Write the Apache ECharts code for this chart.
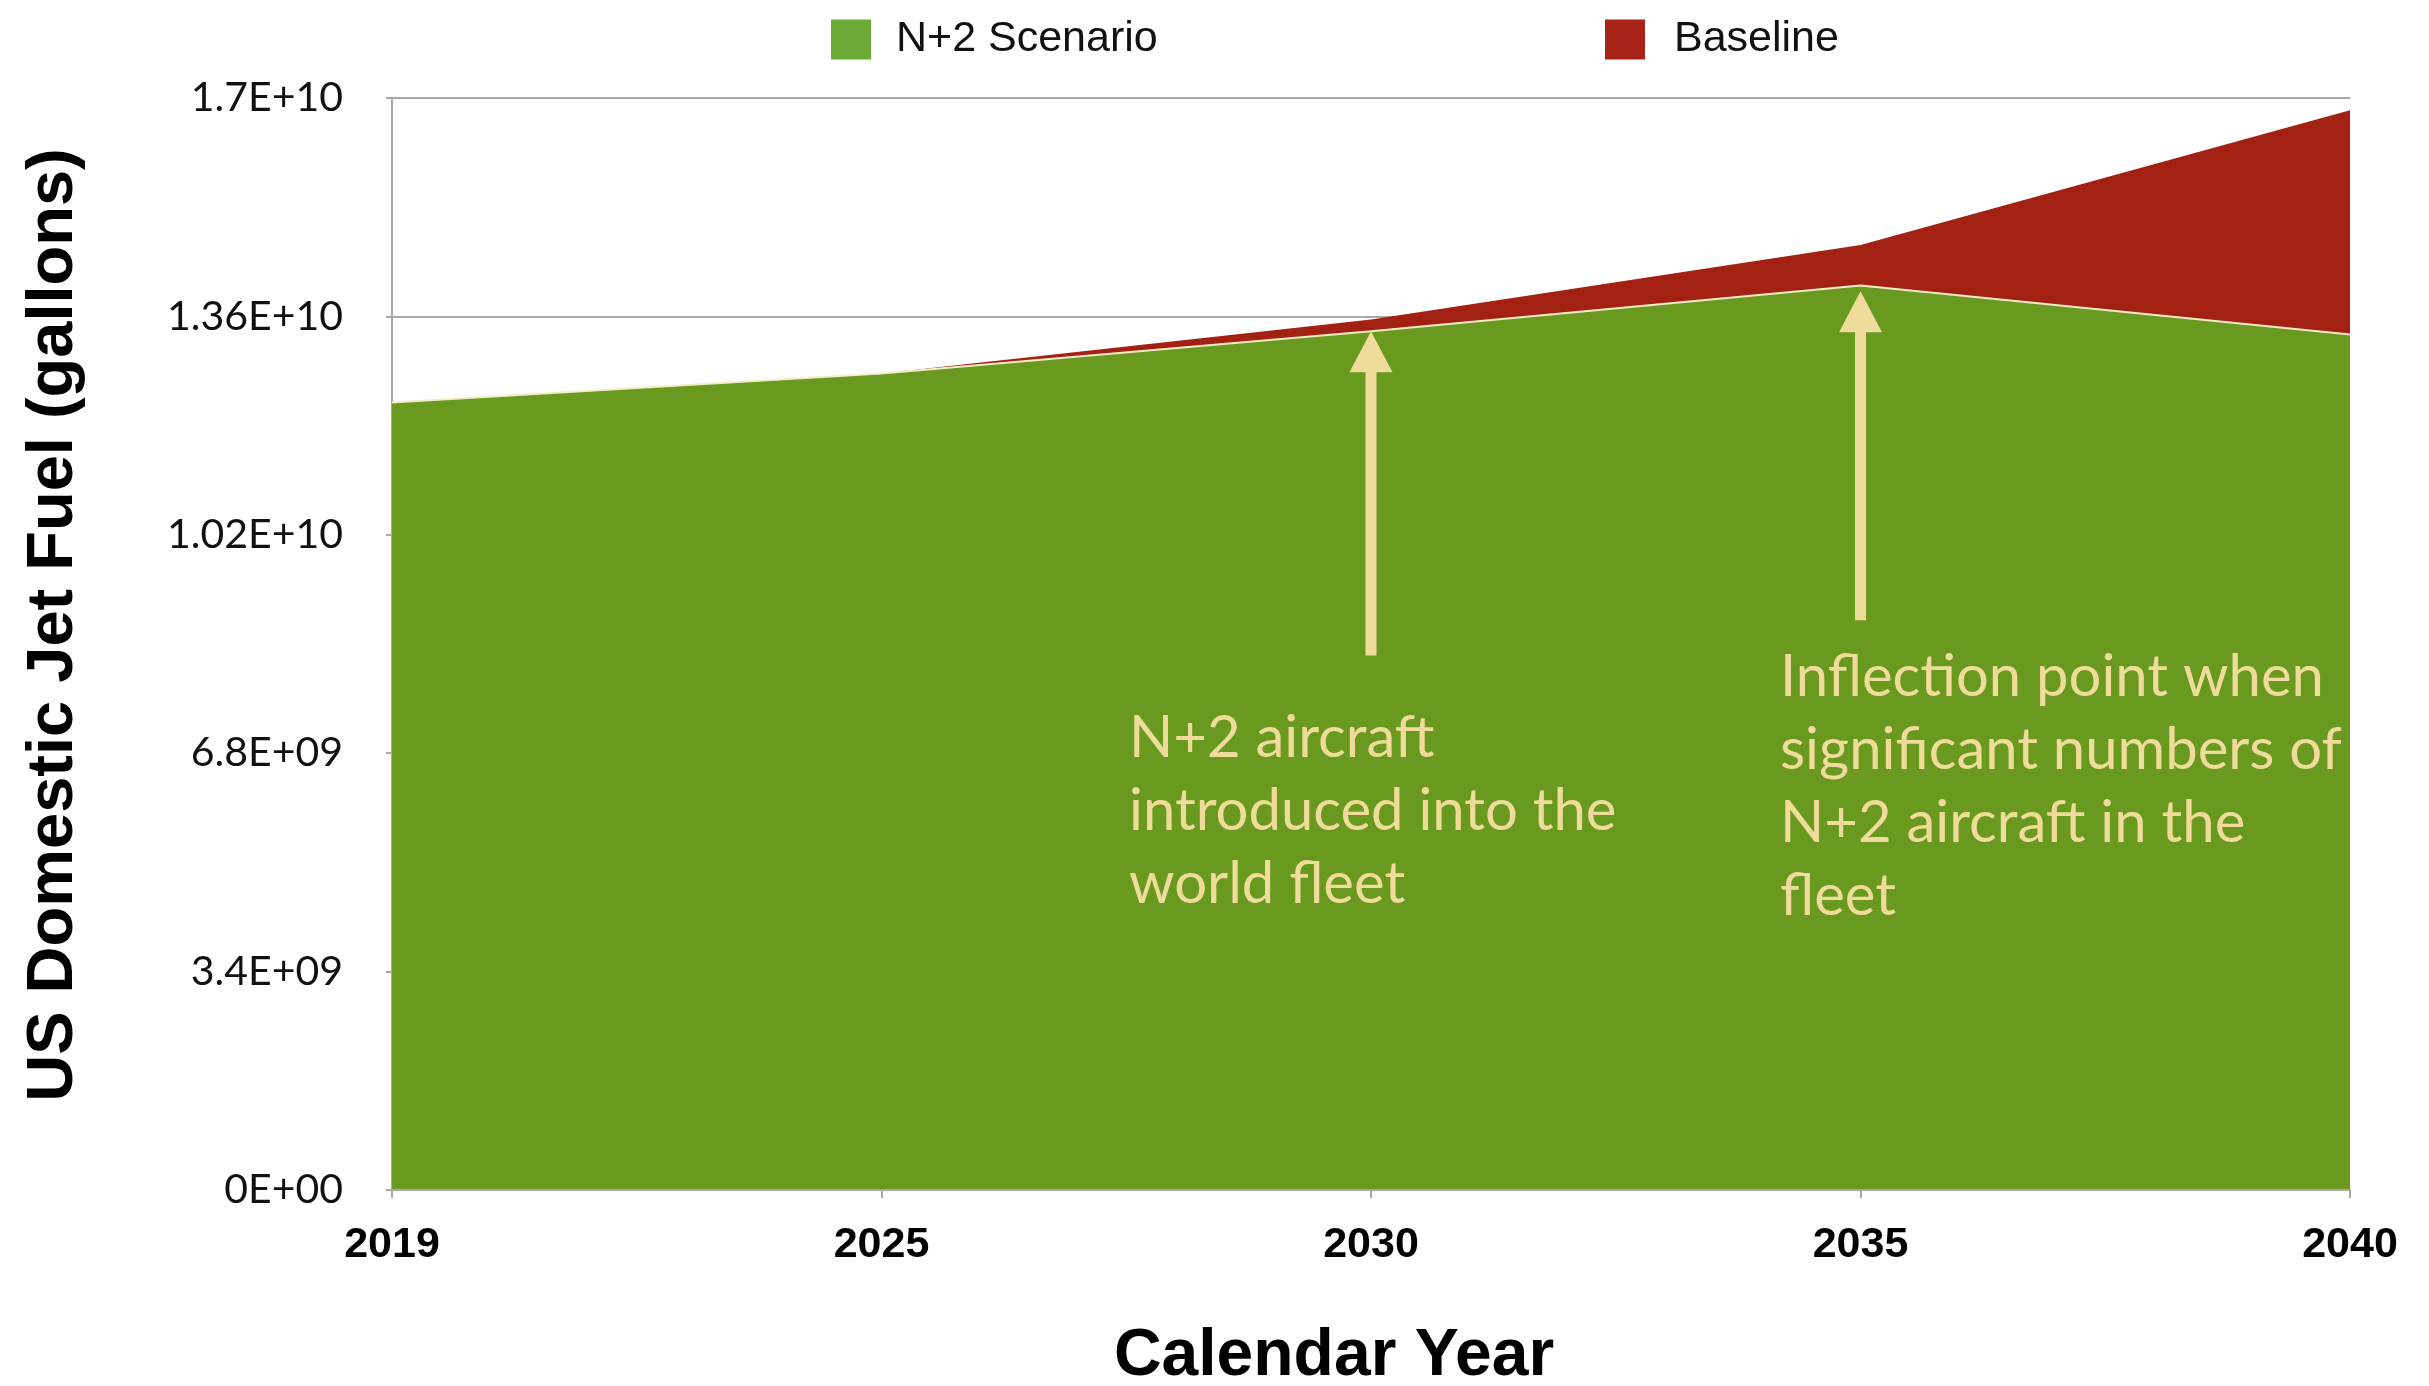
<!DOCTYPE html>
<html>
<head>
<meta charset="utf-8">
<title>US Domestic Jet Fuel</title>
<script src="https://cdn.jsdelivr.net/npm/echarts@6/dist/echarts.min.js"></script>
<style>
  html, body { margin: 0; padding: 0; background: #ffffff; }
  #chart { width: 2429px; height: 1386px; }
</style>
</head>
<body>
<div id="chart"></div>
<script>
// Calendar years on the horizontal axis (evenly spaced categories)
const years = ['2019', '2025', '2030', '2035', '2040'];

// Fuel use in gallons
const n2Scenario = [1.226e10, 1.271e10, 1.337e10, 1.408e10, 1.332e10];
const baseline   = [1.226e10, 1.271e10, 1.355e10, 1.471e10, 1.681e10];

// Value axis ticks
const yMax = 1.7e10;
const yStep = 3.4e9;
const yTickLabels = ['0E+00', '3.4E+09', '6.8E+09', '1.02E+10', '1.36E+10', '1.7E+10'];

// Call-out arrows: year, tip value, tail value
const arrowYears = ['2030', '2035'];
const arrowTips  = [1.337e10, 1.399e10];
const arrowTails = [8.32e9, 8.87e9];

const noteTexts = [
  'N+2 aircraft\nintroduced into the\nworld fleet',
  'Inflection point when\nsignificant numbers of\nN+2 aircraft in the\nfleet'
];

const GREEN = '#699a1f';
const RED = '#a32113';
const CREAM = '#efdc9a';
const AXIS_GRAY = '#a9a9a9';
const SANS = "'Liberation Sans', Arial, sans-serif";

const chart = echarts.init(document.getElementById('chart'), null, { renderer: 'canvas' });

const option = {
  animation: false,
  backgroundColor: '#ffffff',
  grid: { left: 392, right: 79, top: 98, bottom: 196, containLabel: false, outerBoundsMode: 'none' },
  legend: [
    {
      left: 826, top: 13,
      itemWidth: 40, itemHeight: 40, icon: 'rect',
      textStyle: { fontFamily: SANS, fontSize: 43, color: '#111', padding: [0, 0, 0, 20] },
      data: [{ name: 'N+2 Scenario', itemStyle: { color: '#6cab36' } }]
    },
    {
      left: 1600, top: 13,
      itemWidth: 40, itemHeight: 40, icon: 'rect',
      textStyle: { fontFamily: SANS, fontSize: 43, color: '#111', padding: [0, 0, 0, 24] },
      data: [{ name: 'Baseline', itemStyle: { color: '#a82418' } }]
    }
  ],
  xAxis: {
    type: 'category',
    data: years,
    boundaryGap: false,
    name: 'Calendar Year',
    nameLocation: 'middle',
    nameGap: 134,
    nameTextStyle: {
      fontFamily: SANS, fontWeight: 'bold', fontSize: 66, color: '#000',
      padding: [0, 74, 0, 0]
    },
    axisLine: { lineStyle: { color: AXIS_GRAY, width: 2 } },
    axisTick: { show: true, length: 8, lineStyle: { color: AXIS_GRAY, width: 2 } },
    axisLabel: {
      margin: 34,
      fontFamily: SANS, fontWeight: 'bold', fontSize: 43, color: '#000'
    },
    splitLine: { show: false },
    z: 5
  },
  yAxis: {
    type: 'value',
    min: 0,
    max: yMax,
    interval: yStep,
    name: 'US Domestic Jet Fuel (gallons)',
    nameLocation: 'middle',
    nameGap: 305,
    nameTextStyle: {
      fontFamily: SANS, fontWeight: 'bold', fontSize: 65, color: '#000',
      padding: [0, 0, 0, 38]
    },
    axisLine: { show: true, lineStyle: { color: AXIS_GRAY, width: 2 } },
    axisTick: { show: true, length: 6, lineStyle: { color: AXIS_GRAY, width: 2 } },
    axisLabel: {
      margin: 49,
      fontFamily: 'Lato', fontSize: 41, color: '#111',
      formatter: function (v) { return yTickLabels[Math.round(v / yStep)]; }
    },
    splitLine: { show: true, lineStyle: { color: AXIS_GRAY, width: 2 } }
  },
  series: [
    {
      name: 'Baseline',
      type: 'line',
      data: baseline,
      showSymbol: false,
      symbol: 'none',
      color: RED,
      lineStyle: { width: 0, color: RED },
      areaStyle: { color: RED, opacity: 1 },
      z: 2
    },
    {
      name: 'N+2 Scenario',
      type: 'line',
      data: n2Scenario,
      showSymbol: false,
      symbol: 'none',
      color: GREEN,
      lineStyle: { width: 2, color: '#f3ecc6' },
      areaStyle: { color: GREEN, opacity: 1 },
      z: 3
    }
  ]
};

chart.setOption(option);

// Up-pointing call-out arrows placed through the chart's own coordinate system
function buildArrows() {
  const headW = 43, headL = 41, shaftW = 11;
  const els = [];
  arrowYears.forEach(function (yr, i) {
    const tip = chart.convertToPixel({ xAxisIndex: 0, yAxisIndex: 0 }, [yr, arrowTips[i]]);
    const tail = chart.convertToPixel({ xAxisIndex: 0, yAxisIndex: 0 }, [yr, arrowTails[i]]);
    const x = tip[0];
    els.push({
      type: 'polygon',
      z: 100,
      shape: {
        points: [
          [x, tip[1]],
          [x + headW / 2, tip[1] + headL],
          [x + shaftW / 2, tip[1] + headL],
          [x + shaftW / 2, tail[1]],
          [x - shaftW / 2, tail[1]],
          [x - shaftW / 2, tip[1] + headL],
          [x - headW / 2, tip[1] + headL]
        ]
      },
      style: { fill: CREAM }
    });
  });
  return els;
}

const noteStyle = { fontFamily: 'Lato', fontSize: 58, lineHeight: 73, fill: CREAM };

chart.setOption({
  graphic: buildArrows().concat([
    { type: 'text', left: 1129, top: 702, z: 100, style: Object.assign({ text: noteTexts[0] }, noteStyle) },
    { type: 'text', left: 1780, top: 641, z: 100, style: Object.assign({ text: noteTexts[1] }, noteStyle) }
  ])
});
</script>
</body>
</html>
